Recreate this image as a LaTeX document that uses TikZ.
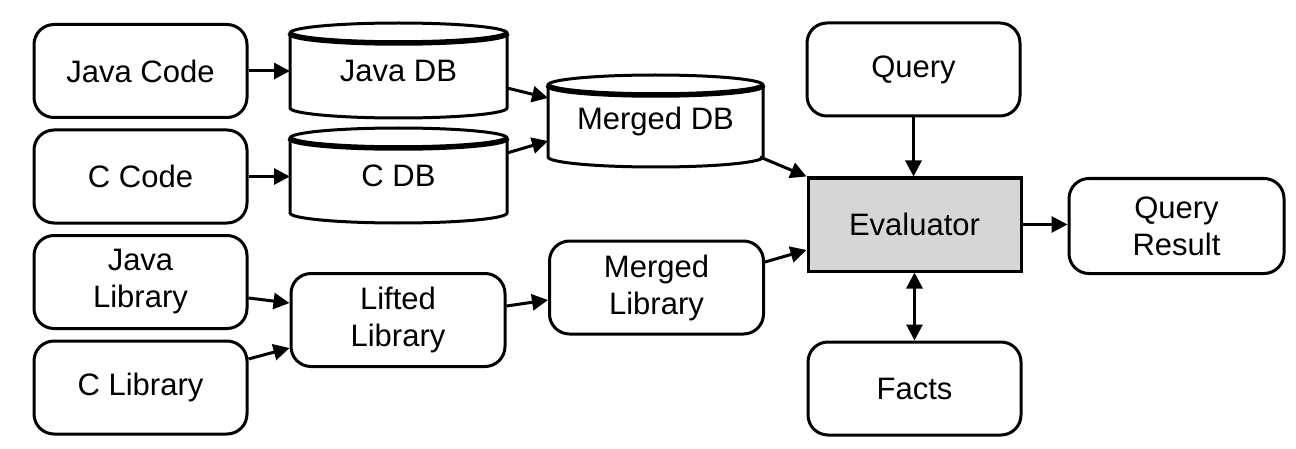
\documentclass[tikz,border=0pt]{standalone}
\usepackage{fontspec}
\setmainfont{Liberation Sans}
\usetikzlibrary{arrows.meta,calc}
\definecolor{evalgray}{RGB}{214,214,214}
\newcommand{\dbdraw}[2]{%
  \draw[ln] ([yshift=-10pt]#1.north west) -- ([yshift=10pt]#1.south west)
     arc[start angle=180,end angle=360,x radius=#2,y radius=10pt]
     -- ([yshift=-10pt]#1.north east);
  \draw[ln] ([yshift=-10pt]#1.north) ellipse [x radius=#2,y radius=10pt];
  \draw[line width=5.5pt] ([yshift=-10pt]#1.north west)
     arc[start angle=180,end angle=360,x radius=#2,y radius=10pt];
}
\begin{document}
\begin{tikzpicture}[x=1pt,y=1pt,
  ln/.style={line width=3pt},
  txt/.style={font=\fontsize{31}{37}\selectfont,align=center},
  rbox/.style={txt,draw,line width=3pt,rounded corners=20pt,minimum width=213pt,minimum height=93pt,inner sep=0pt},
  dbnode/.style={txt,outer sep=0pt,inner sep=0pt,minimum width=217pt,minimum height=95pt},
  arr/.style={line width=3pt,-{Triangle[length=16pt,width=16pt]}},
  darr/.style={line width=3pt,{Triangle[length=16pt,width=16pt]}-{Triangle[length=16pt,width=16pt]}}]
\useasboundingbox (0,0) rectangle (1296,448);
% left column
\node[rbox] (jcode) at (140.5,377) {Java Code};
\node[rbox] (ccode) at (140.5,271.5) {C Code};
\node[rbox] (jlib) at (140.5,166) {Java\\Library};
\node[rbox] (clib) at (140.5,60.5) {C Library};
% databases
\node[dbnode] (jdb) at (398.5,377.5) {\raisebox{-3pt}{Java DB}};
\dbdraw{jdb}{108.5pt}
\node[dbnode] (cdb) at (398.5,272.5) {\raisebox{-10pt}{C DB}};
\dbdraw{cdb}{108.5pt}
\node[dbnode,minimum width=215pt,minimum height=92pt] (mdb) at (655.5,327) {\raisebox{-6pt}{Merged DB}};
\dbdraw{mdb}{107.5pt}
% libraries
\node[rbox,minimum width=214pt] (lifted) at (398,128) {Lifted\\Library};
\node[rbox,minimum width=214pt] (mlib) at (656.5,160.5) {Merged\\Library};
% right part
\node[rbox] (query) at (913.5,378.5) {Query};
\node[txt,draw,line width=3pt,fill=evalgray,minimum width=213pt,minimum height=93pt] (eval) at (914.5,223.5) {Evaluator};
\node[rbox] (facts) at (914.5,59.5) {Facts};
\node[rbox,minimum width=215pt,minimum height=95pt] (qres) at (1176.5,222) {Query\\Result};
% connectors
\draw[arr] (jcode.east) -- (jcode.east -| jdb.west);
\draw[arr] (ccode.east) -- (ccode.east -| cdb.west);
\draw[arr] ([yshift=-17.5pt]jdb.east) -- ([yshift=23pt]mdb.west);
\draw[arr] ([yshift=22.5pt]cdb.east) -- ([yshift=-20pt]mdb.west);
\draw[arr] ([shift={(-3pt,-36pt)}]mdb.east) -- (eval.north west);
\draw[arr] ([yshift=25.5pt]mlib.east) -- ([yshift=-25.5pt]eval.west);
\draw[arr] ([yshift=-16pt]jlib.east) -- ([yshift=17pt]lifted.west);
\draw[arr] ([yshift=28.5pt]clib.east) -- ([yshift=-28pt]lifted.west);
\draw[arr] ([yshift=14pt]lifted.east) -- ([yshift=-12.5pt]mlib.west);
\draw[arr] (query.south) -- (query.south |- eval.north);
\draw[arr] (eval.east) -- (eval.east -| qres.west);
\draw[darr] (eval.south) -- (eval.south |- facts.north);
\end{tikzpicture}
\end{document}
